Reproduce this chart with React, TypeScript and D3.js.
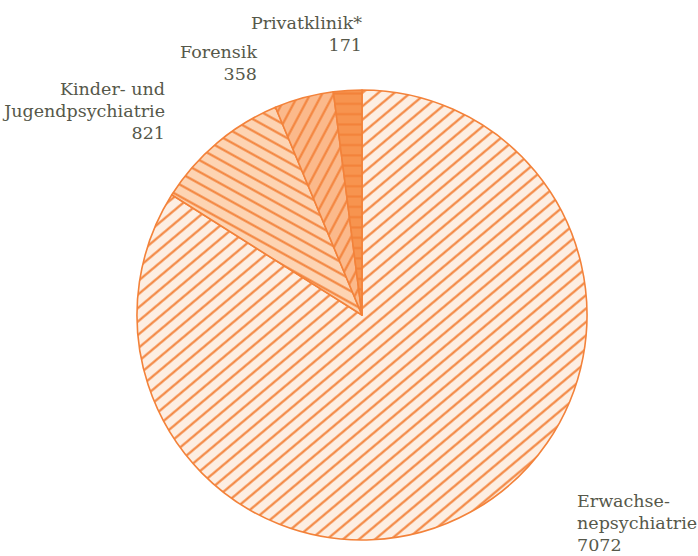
import React from "react";
import * as d3 from "d3";

const categories = ["Erwachsenepsychiatrie", "Kinder- und Jugendpsychiatrie", "Forensik", "Privatklinik*"];
const values = [7072, 821, 358, 171];
const labelLines = [["Erwachse-", "nepsychiatrie"], ["Kinder- und", "Jugendpsychiatrie"], ["Forensik"], ["Privatklinik*"]];
const fills = ["#fdeee2", "#fdd4b3", "#fbb98b", "#f7944f"];
const hatchAngles = [-40, 29, -62, 0];

const W = 698, H = 556;
const CX = 362, CY = 315, R = 225;
const STROKE = "#f3823a";
const TEXT = "#56584a";
const LINE_H = 22;
// label layout: anchor x, first baseline y, text-anchor
const labelLayout = [
  { x: 577, y: 507, anchor: "start" },
  { x: 165, y: 95, anchor: "end" },
  { x: 257, y: 58, anchor: "end" },
  { x: 362, y: 29, anchor: "end" },
];

export default function App() {
  const data = categories.map((c, i) => ({ c, v: values[i], i }));
  const pie = d3.pie<any>().value((d) => d.v).sort(null);
  const arcs = pie(data);
  const arc = d3.arc<any>().innerRadius(0).outerRadius(R);
  const sp = 10.3;
  return (
    <svg width={W} height={H} style={{ position: "absolute", left: 0, top: 0 }}>
      <defs>
        {hatchAngles.map((a, i) => (
          <pattern
            key={i}
            id={`hatch${i}`}
            patternUnits="userSpaceOnUse"
            width={sp}
            height={sp}
            patternTransform={`rotate(${a})`}
          >
            <rect width={sp} height={sp} fill={fills[i]} />
            <line x1={-1} x2={sp + 1} y1={sp / 2} y2={sp / 2} stroke={STROKE} strokeWidth={2.1} />
          </pattern>
        ))}
      </defs>
      <g transform={`translate(${CX},${CY})`}>
        {arcs.map((a, i) => (
          <path key={i} d={arc(a) as string} fill={`url(#hatch${i})`} stroke={STROKE} strokeWidth={1.6} strokeLinejoin="round" />
        ))}
      </g>
      {arcs.map((a, i) => {
        const L = labelLayout[i];
        const lines = [...labelLines[i], String(values[i])];
        return (
          <text
            key={i}
            x={L.x}
            y={L.y}
            textAnchor={L.anchor as any}
            style={{ fontFamily: "'DejaVu Serif'", fontSize: "17.5px" }}
            fill={TEXT}
          >
            {lines.map((t, j) => (
              <tspan key={j} x={L.x} y={L.y + j * LINE_H}>
                {t}
              </tspan>
            ))}
          </text>
        );
      })}
    </svg>
  );
}
